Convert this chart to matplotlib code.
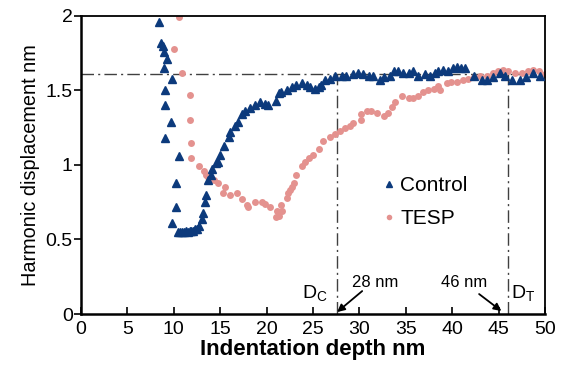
import matplotlib
matplotlib.use("Agg")
import matplotlib.pyplot as plt

plt.rcParams['font.family'] = ['Liberation Sans', 'DejaVu Sans']

control_x = [8.4, 8.6, 8.87, 8.98, 9.27, 8.9, 9.8, 9.09, 9.0, 9.7, 9.09, 10.56, 10.2, 10.2, 9.8,
             10.5, 10.7, 10.9, 11.1, 11.3, 11.5, 11.7, 11.9, 12.1, 12.3, 12.5,
             12.75, 13.0, 13.1, 13.36, 13.5, 13.7, 14.0, 14.08, 14.6, 14.8, 14.98, 15.4, 15.9, 16.05,
             16.6, 16.95, 17.3, 17.7, 18.2, 18.75, 19.3, 19.8, 20.2, 21.0, 21.3, 21.6, 22.2, 22.7,
             23.2, 23.8, 24.3, 24.7, 25.2, 25.6, 25.9, 26.3, 26.8, 27.4, 28.1, 28.6, 29.3, 29.9,
             30.4, 31.0, 31.5, 32.2, 32.6, 33.3, 33.7, 34.2, 34.7, 35.3, 35.8, 36.3, 37.1, 37.6,
             38.1, 38.5, 39.0, 39.6, 40.1, 40.5, 41.0, 41.4, 42.3, 43.2, 43.7, 44.4, 45.2, 45.7,
             46.4, 47.3, 48.0, 48.7, 49.5]
control_y = [1.96, 1.82, 1.80, 1.76, 1.71, 1.65, 1.58, 1.50, 1.40, 1.29, 1.18, 1.06, 0.88, 0.72, 0.61,
             0.55, 0.55, 0.55, 0.55, 0.56, 0.55, 0.56, 0.56, 0.56, 0.57, 0.57,
             0.59, 0.64, 0.68, 0.75, 0.80, 0.90, 0.93, 0.97, 1.01, 1.02, 1.07, 1.13, 1.19, 1.22,
             1.26, 1.29, 1.34, 1.36, 1.38, 1.40, 1.42, 1.41, 1.40, 1.43, 1.48, 1.49, 1.50, 1.52,
             1.54, 1.55, 1.54, 1.52, 1.51, 1.52, 1.54, 1.57, 1.58, 1.60, 1.60, 1.60, 1.61, 1.62,
             1.61, 1.60, 1.60, 1.57, 1.59, 1.60, 1.63, 1.63, 1.62, 1.62, 1.63, 1.60, 1.61, 1.60,
             1.62, 1.63, 1.64, 1.63, 1.65, 1.66, 1.65, 1.65, 1.60, 1.57, 1.57, 1.59, 1.62, 1.60,
             1.57, 1.57, 1.59, 1.62, 1.60]

tesp_x = [10.56, 10.06, 10.9, 11.7, 11.7, 11.85, 11.85, 12.7, 13.3, 13.5, 13.7, 14.3, 14.8, 15.5,
          15.3, 16.1, 16.8, 17.4, 17.9, 18.0, 18.75, 19.5, 19.8, 20.4, 21.1, 21.0, 21.3, 21.7,
          21.6, 22.2, 22.35, 22.5, 22.7, 22.9, 23.2, 23.8, 24.1, 24.6, 25.0, 25.6, 26.1, 26.8,
          27.4, 27.9, 28.4, 29.0, 29.3, 30.2, 30.2, 30.8, 31.3, 31.9, 32.6, 33.1, 33.5, 33.8,
          34.6, 35.3, 35.8, 36.3, 36.9, 37.4, 38.0, 38.5, 38.7, 39.4, 39.9, 40.5, 41.2, 41.7,
          42.3, 43.0, 43.7, 44.4, 44.97, 45.5, 46.0, 46.8, 47.5, 48.2, 48.7, 49.3, 50.0]
tesp_y = [1.99, 1.78, 1.62, 1.47, 1.30, 1.15, 1.05, 0.99, 0.96, 0.93, 0.92, 0.90, 0.88, 0.85,
          0.81, 0.80, 0.81, 0.77, 0.73, 0.72, 0.75, 0.75, 0.74, 0.72, 0.69, 0.65, 0.66, 0.69,
          0.73, 0.78, 0.81, 0.83, 0.85, 0.88, 0.93, 0.99, 1.02, 1.05, 1.07, 1.11, 1.16, 1.19,
          1.21, 1.23, 1.25, 1.26, 1.28, 1.30, 1.34, 1.36, 1.36, 1.35, 1.33, 1.35, 1.39, 1.42,
          1.46, 1.45, 1.45, 1.46, 1.49, 1.50, 1.51, 1.53, 1.50, 1.55, 1.56, 1.56, 1.57, 1.58,
          1.59, 1.60, 1.60, 1.62, 1.63, 1.64, 1.63, 1.62, 1.62, 1.63, 1.64, 1.63, 1.61]

plateau = 1.61
d_control = 27.6
d_tesp = 46.0
x_ticks = [0, 5, 10, 15, 20, 25, 30, 35, 40, 45, 50]
y_ticks = [0, 0.5, 1, 1.5, 2]
y_ticklabels = ['0', '0.5', '1', '1.5', '2']

blue = '#0c3a7c'
pink = '#e4928f'
dash = (0, (9, 3, 1.5, 3))

fig = plt.figure(figsize=(5.68, 3.71), dpi=100)
ax = fig.add_axes([0.1426, 0.1536, 0.8169, 0.8034])

ax.plot(control_x, control_y, linestyle='none', marker='^', markersize=5.5,
        color=blue, label='Control', zorder=3)
ax.plot(tesp_x, tesp_y, linestyle='none', marker='o', markersize=5,
        color=pink, markeredgewidth=0, label='TESP', zorder=2)

ax.plot([0, 50], [plateau, plateau], color='#404040', lw=1.0, linestyle=dash, zorder=1)
ax.plot([d_control, d_control], [0, plateau], color='#404040', lw=1.0, linestyle=dash, zorder=1)
ax.plot([d_tesp, d_tesp], [0, plateau], color='#404040', lw=1.0, linestyle=dash, zorder=1)

ax.set_xlim(0, 50)
ax.set_ylim(0, 2)
ax.set_xticks(x_ticks)
ax.set_yticks(y_ticks)
ax.set_yticklabels(y_ticklabels)
ax.tick_params(axis='x', direction='in', length=5, width=1.2, labelsize=14, pad=5)
ax.tick_params(axis='y', direction='out', length=5, width=1.2, labelsize=14, pad=1)
for s in ax.spines.values():
    s.set_linewidth(1.3)
ax.spines['left'].set_linewidth(1.8)
ax.spines['bottom'].set_linewidth(1.8)

ax.set_xlabel('Indentation depth nm', fontsize=16, fontweight='bold', labelpad=1)
ax.set_ylabel('Harmonic displacement nm', fontsize=14.3, labelpad=4)

leg = ax.legend(loc='upper left', bbox_to_anchor=(0.6, 0.525), frameon=False,
                fontsize=15, handletextpad=0.05, markerscale=0.8, labelspacing=0.65,
                handlelength=1.0)

ax.annotate('', xy=(27.6, 0.013), xytext=(30.3, 0.154),
            arrowprops=dict(arrowstyle='-|>', color='black', lw=1.3,
                            shrinkA=0, shrinkB=0, mutation_scale=11))
ax.annotate('', xy=(45.3, 0.02), xytext=(42.9, 0.134),
            arrowprops=dict(arrowstyle='-|>', color='black', lw=1.3,
                            shrinkA=0, shrinkB=0, mutation_scale=11))
ax.text(29.2, 0.18, '28 nm', fontsize=12, ha='left', va='baseline')
ax.text(38.8, 0.18, '46 nm', fontsize=12, ha='left', va='baseline')
ax.text(23.8, 0.07, r'D$_\mathregular{C}$', fontsize=14, ha='left', va='bottom')
ax.text(46.3, 0.07, r'D$_\mathregular{T}$', fontsize=14, ha='left', va='bottom')

fig.savefig('out.png', dpi=100)
